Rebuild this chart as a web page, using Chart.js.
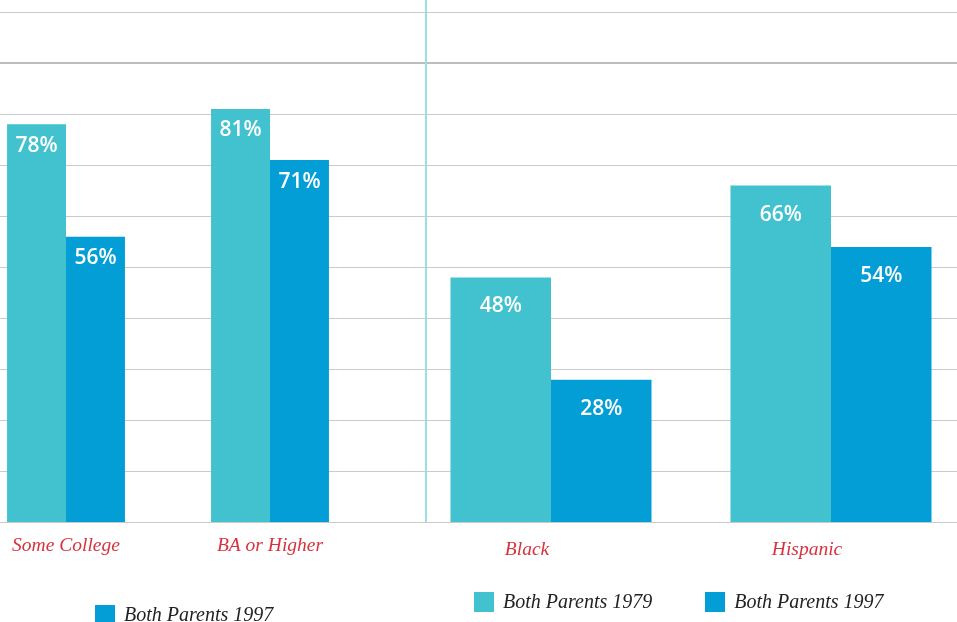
<!DOCTYPE html>
<html>
<head>
<meta charset="utf-8">
<script src="https://cdn.jsdelivr.net/npm/chart.js@4.4.1/dist/chart.umd.min.js"></script>
<style>
  html, body { margin: 0; padding: 0; background: #fff; }
  body { width: 957px; height: 622px; position: relative; overflow: hidden; }
  canvas { position: absolute; top: 0; }
  #leftChart { left: -36px; }
  #rightChart { left: 411px; }
  .divider { position: absolute; left: 425px; top: 0; width: 2px; height: 522px; background: #9edde5; }
  .legend { position: absolute; display: flex; gap: 53px; white-space: nowrap;
            font-family: "Liberation Serif", serif; font-style: italic; font-size: 20px; color: #222; }
  .legend-item { display: flex; align-items: center; gap: 9px; }
  .legend-box { width: 20px; height: 20px; display: inline-block; }
  #leftLegend { left: 95px; top: 603px; }
  #rightLegend { left: 474px; top: 590px; }
</style>
</head>
<body>
<canvas id="leftChart" width="612" height="622"></canvas>
<canvas id="rightChart" width="560" height="622"></canvas>
<div class="divider"></div>
<div class="legend" id="leftLegend"></div>
<div class="legend" id="rightLegend"></div>
<script>
// Parent education (left) and race/ethnicity (right)
const leftCategories = ['Some College', 'BA or Higher', ''];
const rightCategories = ['Black', 'Hispanic'];
const seriesLabels = ['Both Parents 1979', 'Both Parents 1997'];
const left1979 = [78, 81, null];
const left1997 = [56, 71, null];
const right1979 = [48, 66];
const right1997 = [28, 54];
const yMax = 100;
const yStep = 10;

const COLOR_1979 = '#42c2ce';
const COLOR_1997 = '#049ed7';
const LABEL_RED = '#d7333f';

// white value labels inside the top of each bar
const barValueLabels = {
  id: 'barValueLabels',
  afterDatasetsDraw(chart, args, opts) {
    const ctx = chart.ctx;
    ctx.save();
    ctx.font = '600 21px "Open Sans"';
    ctx.fillStyle = '#fff';
    ctx.textAlign = 'center';
    ctx.textBaseline = 'middle';
    chart.data.datasets.forEach((ds, i) => {
      chart.getDatasetMeta(i).data.forEach((bar, j) => {
        const v = ds.data[j];
        if (v == null) return;
        ctx.fillText(v + '%', bar.x, bar.y + opts.offset);
      });
    });
    ctx.restore();
  }
};

function makeDatasets(d1979, d1997, catPct) {
  return [
    { label: seriesLabels[0], data: d1979, backgroundColor: COLOR_1979, barPercentage: 1, categoryPercentage: catPct },
    { label: seriesLabels[1], data: d1997, backgroundColor: COLOR_1997, barPercentage: 1, categoryPercentage: catPct }
  ];
}

function makeOptions(tickPadding, labelOffset, bottomPad, valueOffset) {
  return {
    responsive: false,
    animation: false,
    layout: { padding: { top: 12, bottom: bottomPad, left: 0, right: 0 } },
    scales: {
      x: {
        grid: { display: false },
        border: { display: false },
        ticks: {
          color: LABEL_RED,
          padding: tickPadding,
          labelOffset: labelOffset,
          maxRotation: 0,
          font: { family: '"Liberation Serif", serif', style: 'italic', size: 19.5 }
        }
      },
      y: {
        min: 0,
        max: yMax,
        ticks: { display: false, stepSize: yStep },
        grid: {
          drawTicks: false,
          color: ctx => ctx.tick && ctx.tick.value === 90 ? '#bdbdbd' : '#cacaca',
          lineWidth: ctx => ctx.tick && ctx.tick.value === 90 ? 2 : 1
        },
        border: { display: false }
      }
    },
    plugins: {
      legend: { display: false },
      tooltip: { enabled: false },
      barValueLabels: { offset: valueOffset }
    }
  };
}

const leftChart = new Chart(document.getElementById('leftChart'), {
  type: 'bar',
  data: { labels: leftCategories, datasets: makeDatasets(left1979, left1997, 0.578) },
  options: makeOptions(4, 0, 60, 21.5),
  plugins: [barValueLabels]
});

const rightChart = new Chart(document.getElementById('rightChart'), {
  type: 'bar',
  data: { labels: rightCategories, datasets: makeDatasets(right1979, right1997, 0.718) },
  options: makeOptions(8, -24, 52, 29),
  plugins: [barValueLabels]
});

// legends built from the chart datasets
function buildLegend(chart, el, filter) {
  el.innerHTML = chart.data.datasets.filter(filter).map(ds => `
    <div class="legend-item">
      <span class="legend-box" style="background:${ds.backgroundColor}"></span>
      <span>${ds.label}</span>
    </div>`).join('');
}
// left legend: only the 1997 entry is within the frame
buildLegend(leftChart, document.getElementById('leftLegend'), ds => ds.label === seriesLabels[1]);
buildLegend(rightChart, document.getElementById('rightLegend'), () => true);
</script>
</body>
</html>
